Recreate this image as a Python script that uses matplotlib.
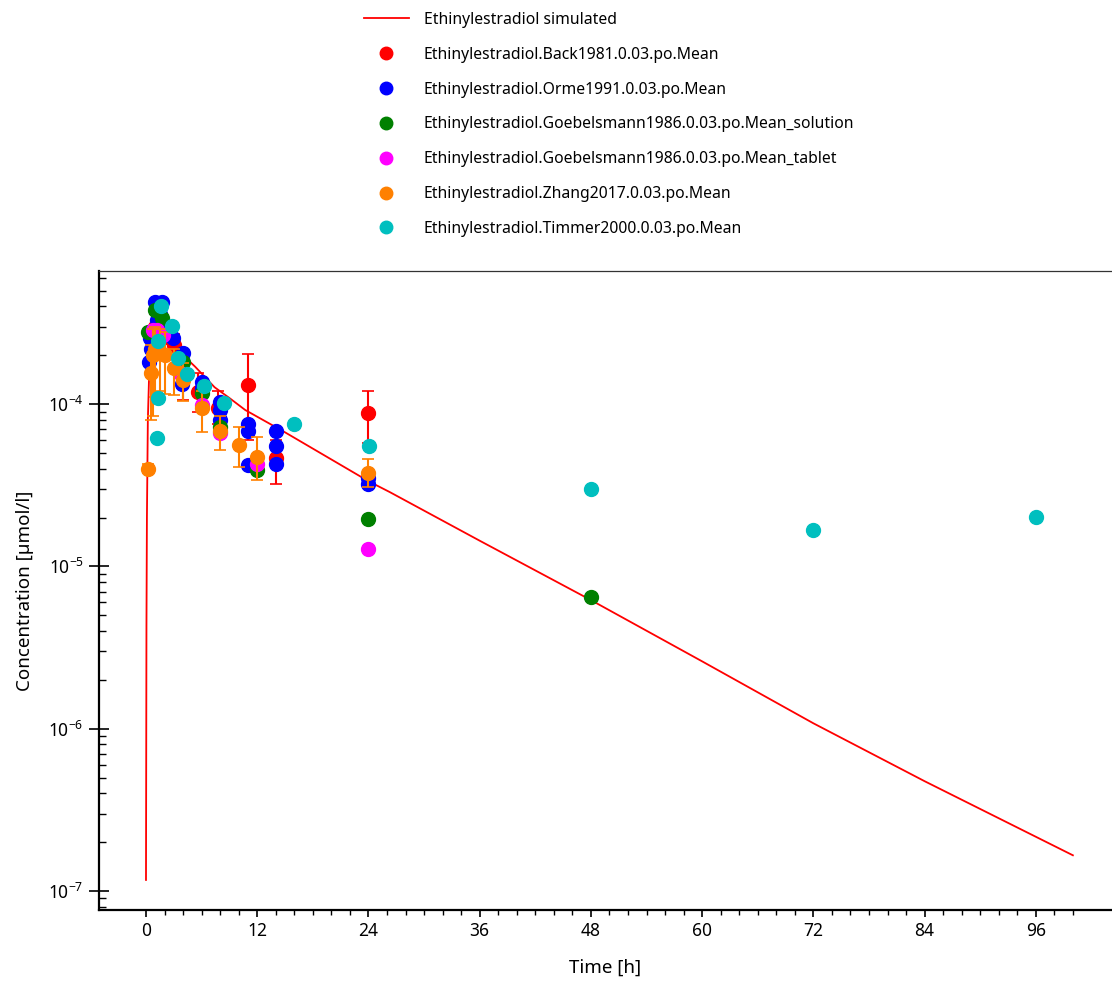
import matplotlib
matplotlib.use("Agg")
import matplotlib.pyplot as plt
from matplotlib.ticker import LogLocator, NullFormatter, FixedLocator

plt.rcParams['font.family'] = ['Noto Sans', 'DejaVu Sans']
plt.rcParams['mathtext.fontset'] = 'custom'
plt.rcParams['mathtext.rm'] = 'Noto Sans'
plt.rcParams['mathtext.it'] = 'Noto Sans'
plt.rcParams['mathtext.bf'] = 'Noto Sans'

# ---- data ----
sim_t = [0, 0.05, 0.1, 0.2, 0.35, 0.5, 0.75, 1.0, 1.5, 2.0, 2.6, 3.0, 4.2, 5.3,
         7.4, 9.0, 10.7, 15, 24, 26.3, 36, 48, 60, 72, 84, 100]
sim_c = [1.17e-7, 4.3e-6, 2.0e-5, 8e-5, 1.6e-4, 2.1e-4, 2.5e-4, 2.7e-4, 2.75e-4,
         2.65e-4, 2.4e-4, 2.3e-4, 1.95e-4, 1.7e-4, 1.27e-4, 1.09e-4, 9.2e-5,
         6.7e-5, 3.35e-5, 2.87e-5, 1.44e-5, 6.2e-6, 2.6e-6, 1.08e-6, 4.75e-7, 1.66e-7]

back_t = [1.0, 2.0, 3.0, 4.0, 5.6, 7.8, 11.0, 14.0, 24.0]
back_c = [3.0e-4, 2.6e-4, 2.31e-4, 1.45e-4, 1.19e-4, 9.5e-5, 1.31e-4, 4.65e-5, 8.8e-5]
back_lo = [2.4e-4, 2.1e-4, 1.9e-4, 1.06e-4, 9.0e-5, 7.5e-5, 6.0e-5, 3.2e-5, 5.75e-5]
back_hi = [3.6e-4, 3.1e-4, 2.7e-4, 1.8e-4, 1.55e-4, 1.2e-4, 2.04e-4, 6.0e-5, 1.2e-4]

orme_t = [0.3, 0.4, 1.0, 1.2, 1.7, 2.2, 2.9, 4.0, 3.9, 6.0, 6.0, 8.0, 8.0, 8.0,
          11.0, 11.0, 11.0, 14.0, 14.0, 14.0, 24.0, 24.0, 0.5, 1.5]
orme_c = [1.82e-4, 2.55e-4, 4.25e-4, 3.3e-4, 4.25e-4, 3.0e-4, 2.55e-4, 2.06e-4,
          1.33e-4, 1.37e-4, 1.25e-4, 1.03e-4, 9.2e-5, 8.0e-5, 7.5e-5, 6.8e-5,
          4.2e-5, 6.8e-5, 5.5e-5, 4.3e-5, 3.5e-5, 3.2e-5, 2.2e-4, 3.6e-4]

goeb_sol_t = [0.2, 1.0, 1.7, 4.0, 6.0, 8.0, 12.0, 24.0, 48.0]
goeb_sol_c = [2.78e-4, 3.8e-4, 3.4e-4, 1.82e-4, 1.17e-4, 7.2e-5, 3.9e-5, 1.95e-5, 6.45e-6]

goeb_tab_t = [0.75, 1.2, 1.8, 3.7, 6.0, 8.0, 12.0, 24.0]
goeb_tab_c = [2.86e-4, 2.86e-4, 2.65e-4, 1.55e-4, 9.9e-5, 6.6e-5, 4.3e-5, 1.28e-5]

zhang_t = [0.25, 0.5, 0.75, 1.0, 1.5, 2.0, 3.0, 4.0, 6.0, 8.0, 10.0, 12.0, 24.0]
zhang_c = [4.0e-5, 1.55e-4, 2.0e-4, 2.2e-4, 2.1e-4, 2.0e-4, 1.67e-4, 1.4e-4,
           9.4e-5, 6.8e-5, 5.6e-5, 4.7e-5, 3.76e-5]
zhang_lo = [3.75e-5, 8.0e-5, 8.5e-5, 1.1e-4, 1.2e-4, 1.15e-4, 1.14e-4, 1.05e-4,
            6.7e-5, 5.2e-5, 4.1e-5, 3.4e-5, 3.1e-5]
zhang_hi = [4.3e-5, 2.3e-4, 2.9e-4, 3.0e-4, 2.9e-4, 2.8e-4, 2.2e-4, 1.8e-4,
            1.2e-4, 8.5e-5, 7.2e-5, 6.3e-5, 4.6e-5]

timmer_t = [1.2, 1.3, 1.3, 1.6, 2.8, 3.4, 4.4, 6.3, 8.4, 16.0, 24.1, 48.0, 72.0, 96.0]
timmer_c = [6.2e-5, 1.09e-4, 2.45e-4, 4.02e-4, 3.03e-4, 1.92e-4, 1.53e-4, 1.29e-4,
            1.01e-4, 7.5e-5, 5.5e-5, 3.0e-5, 1.67e-5, 2.01e-5]

x_major = [0, 12, 24, 36, 48, 60, 72, 84, 96]
x_minor = list(range(0, 101, 2))

labels = ['Ethinylestradiol simulated',
          'Ethinylestradiol.Back1981.0.03.po.Mean',
          'Ethinylestradiol.Orme1991.0.03.po.Mean',
          'Ethinylestradiol.Goebelsmann1986.0.03.po.Mean_solution',
          'Ethinylestradiol.Goebelsmann1986.0.03.po.Mean_tablet',
          'Ethinylestradiol.Zhang2017.0.03.po.Mean',
          'Ethinylestradiol.Timmer2000.0.03.po.Mean']
colors = ['#FF0000', '#FF0000', '#0000FF', '#008000', '#FF00FF', '#FF8000', '#00BFBF']

# ---- figure ----
fig = plt.figure(figsize=(11.12, 9.81), dpi=100)
ax = fig.add_axes([99/1112, 1 - 910/981, 1 - 99/1112 - 0.001, (910 - 271)/981])

ms = 10
handles = []
h, = ax.plot(sim_t, sim_c, color=colors[0], lw=1.3, label=labels[0], zorder=2)
handles.append(h)

def yerr(c, lo, hi):
    return [[ci - l for ci, l in zip(c, lo)], [u - ci for ci, u in zip(c, hi)]]

eb = ax.errorbar(back_t, back_c, yerr=yerr(back_c, back_lo, back_hi), fmt='o',
                 color=colors[1], ms=ms, elinewidth=1.5, capsize=4, capthick=1.2,
                 label=labels[1], zorder=3)
handles.append(eb[0])
h, = ax.plot(orme_t, orme_c, 'o', color=colors[2], ms=ms, label=labels[2], zorder=4)
handles.append(h)
h, = ax.plot(goeb_sol_t, goeb_sol_c, 'o', color=colors[3], ms=ms, label=labels[3], zorder=5)
handles.append(h)
h, = ax.plot(goeb_tab_t, goeb_tab_c, 'o', color=colors[4], ms=ms, label=labels[4], zorder=6)
handles.append(h)
eb2 = ax.errorbar(zhang_t, zhang_c, yerr=yerr(zhang_c, zhang_lo, zhang_hi), fmt='o',
                  color=colors[5], ms=ms, elinewidth=1.5, capsize=4, capthick=1.2,
                  label=labels[5], zorder=7)
handles.append(eb2[0])
h, = ax.plot(timmer_t, timmer_c, 'o', color=colors[6], ms=ms, label=labels[6], zorder=8)
handles.append(h)

ax.set_yscale('log')
ax.set_xlim(-5.07, 104.1)
ax.set_ylim(10 ** -7.117, 10 ** -3.18)

ax.xaxis.set_major_locator(FixedLocator(x_major))
ax.xaxis.set_minor_locator(FixedLocator(x_minor))
ax.yaxis.set_major_locator(LogLocator(base=10, numticks=20))
ax.yaxis.set_minor_locator(LogLocator(base=10, subs=range(2, 10), numticks=100))
ax.yaxis.set_minor_formatter(NullFormatter())

ax.tick_params(axis='x', which='major', direction='out', length=5, width=1.2,
               labelsize=12.5, pad=4)
ax.tick_params(axis='x', which='minor', direction='out', length=3.5, width=1.0)
ax.tick_params(axis='y', which='major', direction='inout', length=15, width=1.2,
               labelsize=12.5)
ax.tick_params(axis='y', which='minor', direction='in', length=5, width=1.0)

for s in ['left', 'bottom']:
    ax.spines[s].set_linewidth(1.6)
ax.spines['top'].set_linewidth(0.9)
ax.spines['top'].set_color('#333333')
ax.spines['right'].set_visible(False)

ax.set_xlabel('Time [h]', fontsize=13.5, labelpad=13)
ax.set_ylabel('Concentration [µmol/l]', fontsize=13.5, labelpad=10)

fig.legend(handles=handles, labels=labels, loc='upper left',
           bbox_to_anchor=(356/1112, 1 - 4/981), frameon=False, fontsize=11.3,
           handlelength=2.87, handletextpad=0.95, labelspacing=1.2, borderpad=0,
           markerscale=0.9)

fig.savefig('out.png', dpi=100)
